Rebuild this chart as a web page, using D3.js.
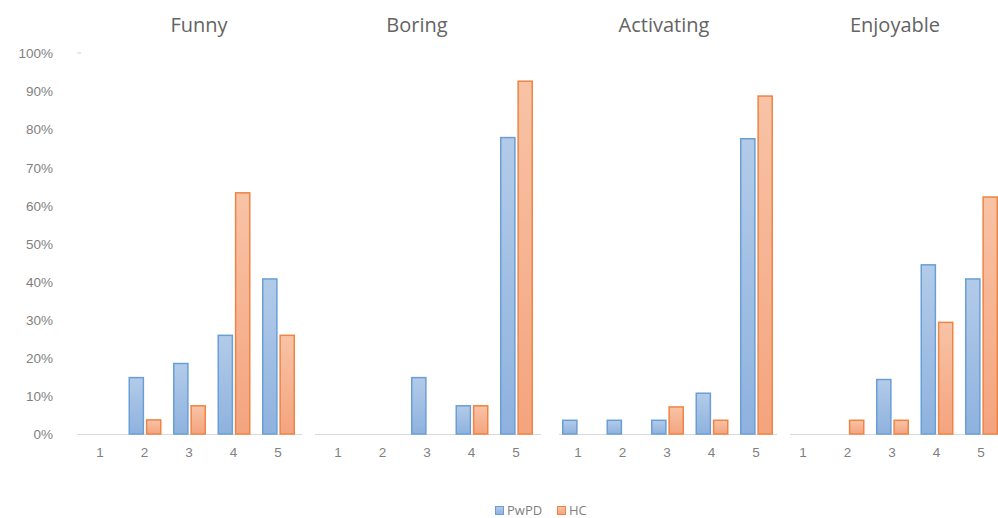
<!DOCTYPE html>
<html>
<head>
<meta charset="utf-8">
<script src="https://cdn.jsdelivr.net/npm/d3@7"></script>
<style>
  html, body { margin: 0; padding: 0; background: #fff; }
  svg { display: block; font-family: "Open Sans", "Noto Sans", sans-serif; }
</style>
</head>
<body>
<svg id="chart" width="998" height="518"></svg>
<script>
// Response categories on the 1–5 scale
const categories = ["1", "2", "3", "4", "5"];
const panelTitles = ["Funny", "Boring", "Activating", "Enjoyable"];
const seriesNames = ["PwPD", "HC"];

// Share of answers (%) per panel, one array per group
const pwpdFunny      = [0, 14.8, 18.5, 25.9, 40.7];
const hcFunny        = [0, 3.7, 7.4, 63.3, 25.9];
const pwpdBoring     = [0, 0, 14.8, 7.4, 77.8];
const hcBoring       = [0, 0, 0, 7.4, 92.6];
const pwpdActivating = [3.6, 3.6, 3.6, 10.7, 77.5];
const hcActivating   = [0, 0, 7.1, 3.6, 88.7];
const pwpdEnjoyable  = [0, 0, 14.3, 44.4, 40.7];
const hcEnjoyable    = [0, 3.6, 3.6, 29.3, 62.2];

const yTicks = [0, 10, 20, 30, 40, 50, 60, 70, 80, 90, 100];

const panelValues = [
  [pwpdFunny, hcFunny],
  [pwpdBoring, hcBoring],
  [pwpdActivating, hcActivating],
  [pwpdEnjoyable, hcEnjoyable]
];

// Layout
const svg = d3.select("#chart");
const y = d3.scaleLinear().domain([0, 100]).range([434, 53]);
const bandW = 44.5;
const firstCenters = [100, 338, 578, 803];
const titleCenters = [199, 417, 664, 895];
const baselineExtents = [[77, 302], [315, 541], [559, 777], [790, 998]];

const colors = {
  PwPD: { top: "#b3cbe9", bottom: "#8eb2de", stroke: "#6a9fd6" },
  HC:   { top: "#f8c3a6", bottom: "#f4a47e", stroke: "#ef8444" }
};

// Vertical gradients for bar fills
const defs = svg.append("defs");
seriesNames.forEach(name => {
  const g = defs.append("linearGradient")
    .attr("id", "grad-" + name)
    .attr("x1", 0).attr("y1", 0).attr("x2", 0).attr("y2", 1);
  g.append("stop").attr("offset", "0%").attr("stop-color", colors[name].top);
  g.append("stop").attr("offset", "100%").attr("stop-color", colors[name].bottom);
});

// Y axis labels (left of first panel)
const yAxis = d3.axisLeft(y)
  .tickValues(yTicks)
  .tickFormat(d => d + "%")
  .tickSize(0)
  .tickPadding(0);
const yAxisG = svg.append("g")
  .attr("transform", "translate(53,0)")
  .call(yAxis);
yAxisG.select(".domain").remove();
yAxisG.selectAll("text")
  .attr("fill", "#7f7f7f")
  .style("font-size", "13.5px")
  .attr("dy", "0.35em");
// small tick at the top of the value axis
svg.append("line")
  .attr("x1", 77).attr("x2", 81)
  .attr("y1", y(100)).attr("y2", y(100))
  .attr("stroke", "#d0d0d0").attr("stroke-width", 1);

panelValues.forEach((vals, p) => {
  const c1 = firstCenters[p];
  const x = d3.scaleBand()
    .domain(categories)
    .range([c1 - bandW / 2, c1 - bandW / 2 + bandW * categories.length])
    .paddingInner(0)
    .paddingOuter(0);
  const inner = d3.scaleBand()
    .domain(seriesNames)
    .range([x.bandwidth() / 2 - 16, x.bandwidth() / 2 + 17])
    .paddingInner(0.1);

  const g = svg.append("g").attr("class", "panel");

  // Title
  g.append("text")
    .attr("x", titleCenters[p])
    .attr("y", 32)
    .attr("text-anchor", "middle")
    .attr("fill", "#646464")
    .style("font-size", "20px")
    .text(panelTitles[p]);

  // Baseline
  const [bx0, bx1] = baselineExtents[p];
  g.append("line")
    .attr("x1", bx0).attr("x2", bx1)
    .attr("y1", y(0) + 0.5).attr("y2", y(0) + 0.5)
    .attr("stroke", "#d9d9d9").attr("stroke-width", 1);

  // Category labels
  const xAxis = d3.axisBottom(x).tickSize(0).tickPadding(0);
  const xg = g.append("g")
    .attr("transform", "translate(0," + (y(0) + 18) + ")")
    .call(xAxis);
  xg.select(".domain").remove();
  xg.selectAll("text")
    .attr("fill", "#7f7f7f")
    .style("font-size", "13.5px")
    .attr("dy", "0.35em");

  // Bars
  seriesNames.forEach((name, s) => {
    const data = categories.map((c, i) => ({ c, v: vals[s][i] })).filter(d => d.v > 0);
    g.selectAll(".bar-" + name)
      .data(data)
      .join("rect")
      .attr("class", "bar-" + name)
      .attr("x", d => x(d.c) + inner(name) + 0.75)
      .attr("width", inner.bandwidth() - 1.5)
      .attr("y", d => y(d.v))
      .attr("height", d => y(0) - y(d.v))
      .attr("fill", "url(#grad-" + name + ")")
      .attr("stroke", colors[name].stroke)
      .attr("stroke-width", 1.5);
  });
});

// Legend
const legend = svg.append("g").attr("transform", "translate(495,503)");
const legendItems = [
  { name: "PwPD", dx: 0 },
  { name: "HC", dx: 62 }
];
legendItems.forEach(item => {
  const lg = legend.append("g").attr("transform", "translate(" + item.dx + ",0)");
  lg.append("rect")
    .attr("x", 0.5).attr("y", 3.5)
    .attr("width", 8).attr("height", 8)
    .attr("fill", "url(#grad-" + item.name + ")")
    .attr("stroke", colors[item.name].stroke)
    .attr("stroke-width", 1);
  lg.append("text")
    .attr("x", 12).attr("y", 7.5)
    .attr("dy", "0.35em")
    .attr("fill", "#7f7f7f")
    .style("font-size", "13px")
    .text(item.name);
});
</script>
</body>
</html>
